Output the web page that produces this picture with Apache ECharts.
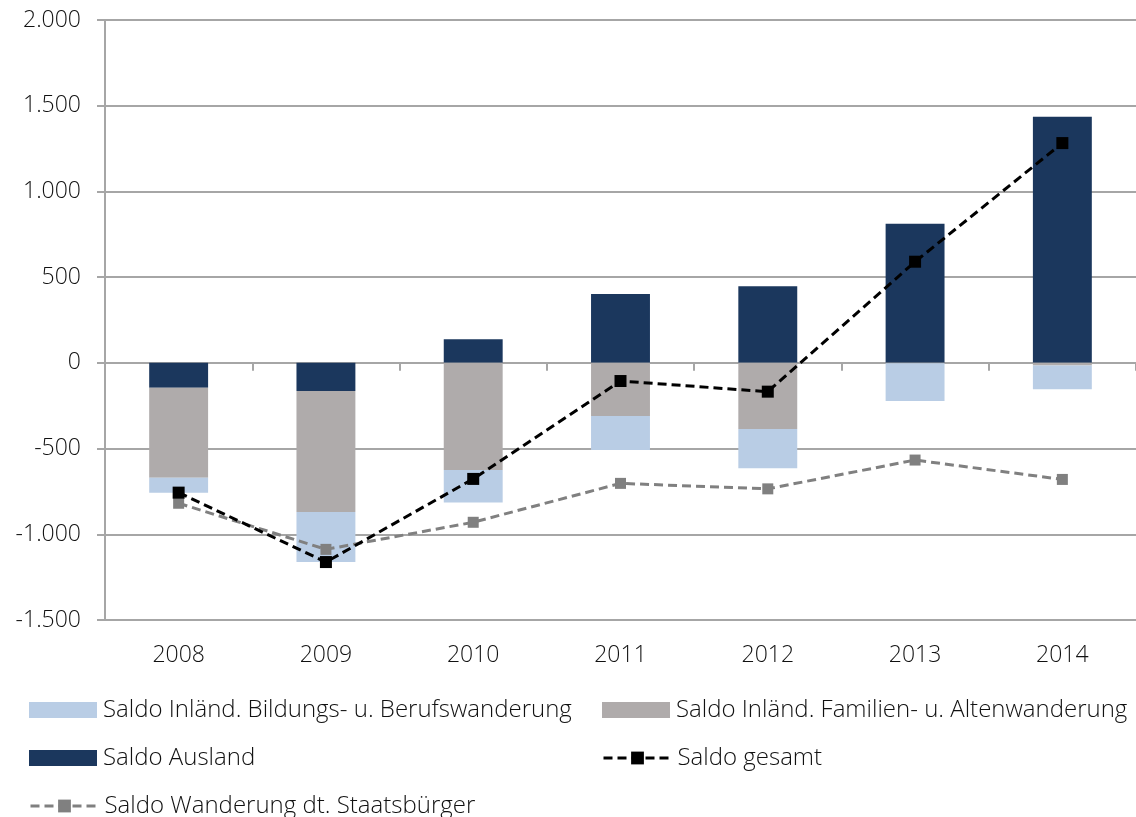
<!DOCTYPE html>
<html>
<head>
<meta charset="utf-8">
<script src="https://cdn.jsdelivr.net/npm/echarts@6/dist/echarts.min.js"></script>
<style>
html, body { margin: 0; padding: 0; background: #fff; }
#chart { width: 1136px; height: 817px; }
</style>
</head>
<body>
<div id="chart"></div>
<script>
const years = ['2008', '2009', '2010', '2011', '2012', '2013', '2014'];
const ausland = [-145, -164, 138, 402, 447, 812, 1436];
const familien = [-525, -706, -625, -310, -386, -3, -15];
const bildung = [-87, -292, -190, -198, -229, -219, -139];
const gesamt = [-757, -1162, -677, -106, -168, 590, 1282];
const staatsbuerger = [-819, -1088, -930, -703, -735, -567, -680];

const yTicks = { min: -1500, max: 2000, step: 500 };

const fmt = v => {
    const s = Math.abs(v).toString().replace(/\B(?=(\d{3})+(?!\d))/g, '.');
    return (v < 0 ? '-' : '') + s;
};

const chart = echarts.init(document.getElementById('chart'));
const textColor = '#111';
const fontFamily = 'Open Sans';
const fontWeight = 300;
const gridColor = '#a6a6a6';

const legendText = { color: textColor, fontSize: 24, fontFamily: fontFamily, fontWeight: fontWeight, padding: [0, 0, 0, 1] };

// one legend per entry so the two-column layout of the original is kept
const legendItem = (item, left, top) => ({
    orient: 'horizontal',
    left: left,
    top: top,
    padding: 0,
    itemWidth: 68,
    itemHeight: 16,
    lineStyle: { width: 3 },
    textStyle: legendText,
    data: [item]
});

const option = {
    animation: false,
    grid: { left: 105, right: 0, top: 20, bottom: 197 },
    xAxis: [
        {
            type: 'category',
            data: years,
            position: 'bottom',
            axisLine: { show: false, onZero: false },
            axisTick: { show: false },
            axisLabel: { color: textColor, fontSize: 23, fontFamily: fontFamily, fontWeight: fontWeight, margin: 24 }
        },
        {
            type: 'category',
            data: years,
            position: 'bottom',
            axisLine: { show: true, onZero: true, lineStyle: { color: gridColor, width: 2 } },
            axisTick: { show: true, length: 8, lineStyle: { color: gridColor, width: 2 } },
            axisLabel: { show: false }
        }
    ],
    yAxis: {
        type: 'value',
        min: yTicks.min,
        max: yTicks.max,
        interval: yTicks.step,
        axisLine: { show: true, lineStyle: { color: gridColor, width: 2 } },
        axisTick: { show: true, length: 8, lineStyle: { color: gridColor, width: 2 } },
        splitLine: { lineStyle: { color: gridColor, width: 2 } },
        axisLabel: {
            color: textColor, fontSize: 23, fontFamily: fontFamily, fontWeight: fontWeight, margin: 24,
            formatter: fmt
        }
    },
    legend: [
        legendItem({ name: 'Saldo Inländ. Bildungs- u. Berufswanderung', icon: 'rect' }, 29, 698),
        legendItem({ name: 'Saldo Inländ. Familien- u. Altenwanderung', icon: 'rect' }, 602, 698),
        legendItem({ name: 'Saldo Ausland', icon: 'rect' }, 29, 746),
        legendItem('Saldo gesamt', 602, 746),
        legendItem('Saldo Wanderung dt. Staatsbürger', 29, 794)
    ],
    series: [
        {
            name: 'Saldo Ausland',
            type: 'bar',
            stack: 'saldo',
            barWidth: '40%',
            itemStyle: { color: '#1b375d' },
            data: ausland
        },
        {
            name: 'Saldo Inländ. Familien- u. Altenwanderung',
            type: 'bar',
            stack: 'saldo',
            itemStyle: { color: '#afabab' },
            data: familien
        },
        {
            name: 'Saldo Inländ. Bildungs- u. Berufswanderung',
            type: 'bar',
            stack: 'saldo',
            itemStyle: { color: '#b9cde5' },
            data: bildung
        },
        {
            name: 'Saldo gesamt',
            type: 'line',
            symbol: 'rect',
            symbolSize: 12,
            itemStyle: { color: '#000' },
            lineStyle: { color: '#000', width: 3, type: [9, 5] },
            z: 5,
            data: gesamt
        },
        {
            name: 'Saldo Wanderung dt. Staatsbürger',
            type: 'line',
            symbol: 'rect',
            symbolSize: 11,
            itemStyle: { color: '#808080' },
            lineStyle: { color: '#808080', width: 3, type: [9, 5] },
            z: 4,
            data: staatsbuerger
        }
    ]
};

chart.setOption(option);
</script>
</body>
</html>
